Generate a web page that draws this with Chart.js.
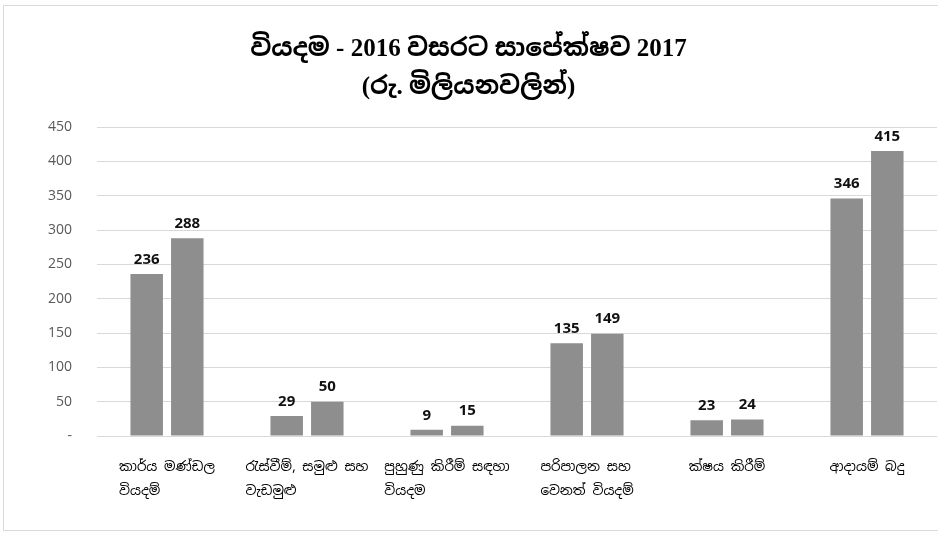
<!DOCTYPE html>
<html>
<head>
<meta charset="utf-8">
<script src="https://cdn.jsdelivr.net/npm/chart.js@4/dist/chart.umd.min.js"></script>
<style>
  html, body { margin: 0; padding: 0; background: #fff; }
  #wrap { width: 938px; height: 533px; position: relative; }
</style>
</head>
<body>
<div id="wrap"><canvas id="expenses"></canvas></div>
<script>
const titleLines = ['වියදම - 2016 වසරට සාපේක්ෂව 2017', '(රු. මිලියනවලින්)'];
const categories = [
    ['කාර්ය මණ්ඩල', 'වියදම්'],
    ['රැස්වීම්, සමුළු සහ', 'වැඩමුළු'],
    ['පුහුණු කිරීම් සඳහා', 'වියදම'],
    ['පරිපාලන සහ', 'වෙනත් වියදම්'],
    ['ක්ෂය කිරීම්'],
    ['ආදායම් බදු']
];
const values2016 = [236, 29, 9, 135, 23, 346];
const values2017 = [288, 50, 15, 149, 24, 415];
const yTicks = [0, 50, 100, 150, 200, 250, 300, 350, 400, 450];

const labelFont = "'Noto Sans Sinhala', 'Iskoola Pota', 'Noto Sans', sans-serif";
const barColor = '#8e8e8e';

// white page + light frame, like the exported excel chart
const frame = {
    id: 'frame',
    beforeDraw(chart) {
        const ctx = chart.ctx;
        ctx.save();
        ctx.fillStyle = '#fff';
        ctx.fillRect(0, 0, chart.width, chart.height);
        ctx.strokeStyle = '#d9d9d9';
        ctx.lineWidth = 1;
        ctx.strokeRect(3.5, 5.5, chart.width + 10, chart.height - 8);
        ctx.restore();
    }
};

// value labels above the bars
const valueLabels = {
    id: 'valueLabels',
    afterDatasetsDraw(chart) {
        const ctx = chart.ctx;
        ctx.save();
        ctx.font = "bold 15px 'Open Sans', sans-serif";
        ctx.fillStyle = '#111';
        ctx.textAlign = 'center';
        ctx.textBaseline = 'bottom';
        chart.data.datasets.forEach((ds, i) => {
            chart.getDatasetMeta(i).data.forEach((bar, j) => {
                ctx.fillText(String(ds.data[j]), bar.x, bar.y - 7);
            });
        });
        ctx.restore();
    }
};

// category labels: wrapped lines, left aligned inside a centred block
const categoryLabels = {
    id: 'categoryLabels',
    afterDraw(chart) {
        const ctx = chart.ctx;
        const xs = chart.scales.x;
        ctx.save();
        ctx.font = '13.5px ' + labelFont;
        ctx.fillStyle = '#000';
        ctx.textAlign = 'left';
        ctx.textBaseline = 'middle';
        categories.forEach((lines, i) => {
            const cx = xs.getPixelForValue(i);
            const w = Math.max(...lines.map(l => ctx.measureText(l).width));
            const left = cx - w / 2;
            lines.forEach((line, k) => {
                ctx.fillText(line, left, chart.chartArea.bottom + 31 + k * 24);
            });
        });
        ctx.restore();
    }
};

new Chart(document.getElementById('expenses').getContext('2d'), {
    type: 'bar',
    data: {
        labels: categories,
        datasets: [{
            label: '2016',
            data: values2016,
            backgroundColor: barColor,
            barPercentage: 0.8,
            categoryPercentage: 0.58
        }, {
            label: '2017',
            data: values2017,
            backgroundColor: barColor,
            barPercentage: 0.8,
            categoryPercentage: 0.58
        }]
    },
    options: {
        responsive: true,
        maintainAspectRatio: false,
        animation: false,
        events: [],
        layout: {
            padding: { left: 0, right: 1, top: 0, bottom: 0 }
        },
        scales: {
            x: {
                grid: { display: false },
                border: { display: false },
                ticks: { display: false },
                afterFit(scale) { scale.height = 97; }
            },
            y: {
                min: 0,
                max: 450,
                afterBuildTicks(scale) { scale.ticks = yTicks.map(v => ({ value: v })); },
                afterFit(scale) { scale.width = 97; },
                border: { display: false },
                grid: { color: '#d9d9d9', lineWidth: 1, drawTicks: false },
                ticks: {
                    padding: 25,
                    color: '#595959',
                    font: { family: "'Open Sans', sans-serif", size: 14 },
                    callback: (v) => v === 0 ? '-' : v
                }
            }
        },
        plugins: {
            legend: { display: false },
            tooltip: { enabled: false },
            title: {
                display: true,
                text: titleLines,
                color: '#000',
                font: { family: "'Liberation Serif', " + labelFont, size: 25, weight: 'bold', lineHeight: 1.54 },
                padding: { top: 30, bottom: 20 }
            }
        }
    },
    plugins: [frame, valueLabels, categoryLabels]
});
</script>
</body>
</html>
